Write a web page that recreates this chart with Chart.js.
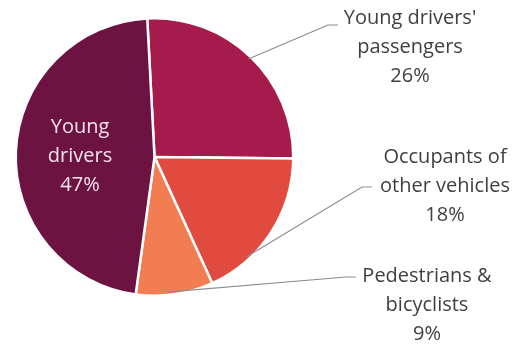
<!DOCTYPE html>
<html>
<head>
<meta charset="utf-8">
<script src="https://cdn.jsdelivr.net/npm/chart.js@4"></script>
<style>
  html, body { margin: 0; padding: 0; background: #fff; }
  #wrap { width: 519px; height: 348px; }
</style>
</head>
<body>
<div id="wrap"><canvas id="myChart" width="519" height="348"></canvas></div>
<script>
// data, clockwise from 12 o'clock
var categories = ["Young drivers' passengers", 'Occupants of other vehicles', 'Pedestrians & bicyclists', 'Young drivers'];
var shares = [26, 18, 9, 47];
var labelLines = [
    ["Young drivers'", 'passengers'],
    ['Occupants of', 'other vehicles'],
    ['Pedestrians &', 'bicyclists'],
    ['Young', 'drivers']
];
var sliceColors = ['#A51B4B', '#E14A3E', '#F37D52', '#6C1342'];

var canvas = document.getElementById('myChart');
var ctx = canvas.getContext('2d');

// where each label sits and where its leader line bends
var labelSpots = [
    { x: 410, y: 18, elbow: [328, 25], tip: 0.5 },
    { x: 445, y: 157, elbow: [362, 187], tip: 0.72 },
    { x: 427, y: 276, elbow: [346, 277], tip: 0.6 },
    { x: 80, y: 127, inside: true }
];

var calloutPlugin = {
    id: 'callouts',
    afterDatasetsDraw: function(chart) {
        var c = chart.ctx;
        var meta = chart.getDatasetMeta(0);
        c.save();
        c.font = '20px "Open Sans"';
        c.textAlign = 'center';
        c.textBaseline = 'middle';
        meta.data.forEach(function(arc, i) {
            var spot = labelSpots[i];
            var lines = labelLines[i].concat([shares[i] + '%']);
            if (!spot.inside) {
                var p = arc.getProps(['x', 'y', 'startAngle', 'endAngle', 'outerRadius'], true);
                var a = p.startAngle + (p.endAngle - p.startAngle) * spot.tip;
                var sx = p.x + Math.cos(a) * (p.outerRadius - 3);
                var sy = p.y + Math.sin(a) * (p.outerRadius - 3);
                c.strokeStyle = '#8c8c8c';
                c.lineWidth = 1.2;
                c.beginPath();
                c.moveTo(sx, sy);
                c.lineTo(spot.elbow[0], spot.elbow[1]);
                c.lineTo(spot.elbow[0] + 10, spot.elbow[1]);
                c.stroke();
                c.fillStyle = '#3f3f3f';
            } else {
                c.fillStyle = '#f3e3ea';
            }
            lines.forEach(function(t, k) {
                c.fillText(t, spot.x, spot.y + k * 29);
            });
        });
        c.restore();
    }
};

var myPie = new Chart(ctx, {
    type: 'pie',
    data: {
        labels: categories,
        datasets: [{
            data: shares,
            backgroundColor: sliceColors,
            borderColor: '#ffffff',
            borderWidth: 2.5
        }]
    },
    options: {
        responsive: false,
        animation: false,
        rotation: -3,
        layout: {
            padding: { left: 14, right: 224, top: 17, bottom: 51 }
        },
        plugins: {
            legend: { display: false },
            tooltip: { enabled: false }
        }
    },
    plugins: [calloutPlugin]
});
</script>
</body>
</html>
